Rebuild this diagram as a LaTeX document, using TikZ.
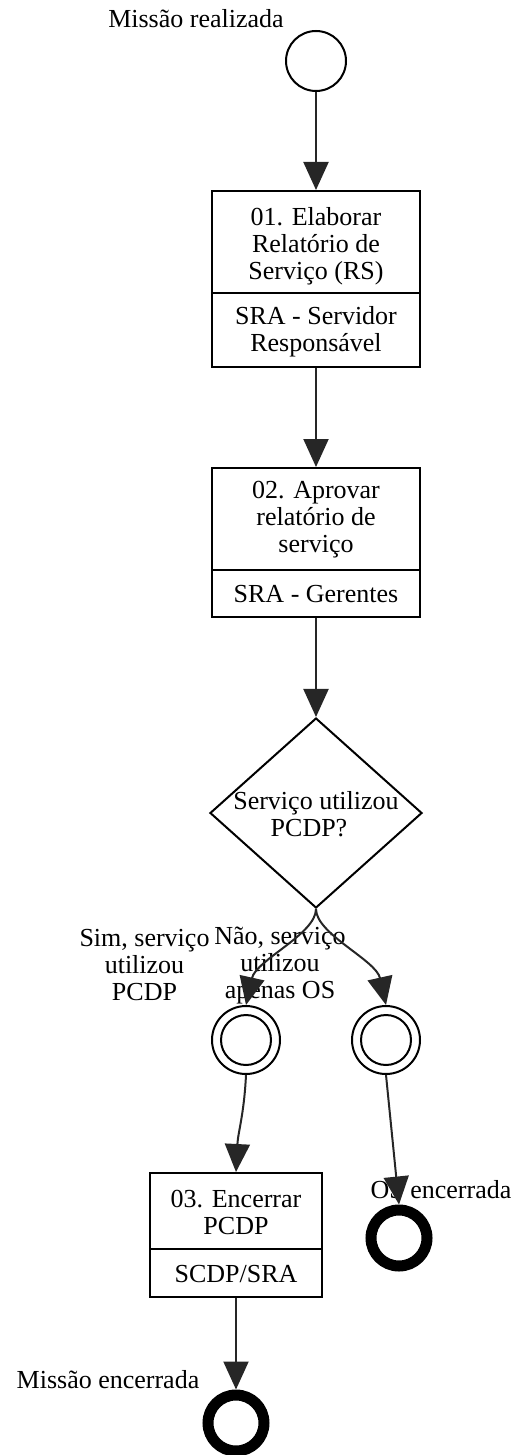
\documentclass[tikz,border=0pt]{standalone}
\usepackage{fontspec}
\setmainfont{Liberation Serif}
\usetikzlibrary{arrows.meta,shapes.geometric}
\begin{document}
\begin{tikzpicture}[x=1pt,y=-1pt,
  txt/.style={font=\fontsize{26}{27}\selectfont, align=center, inner sep=0pt},
  conn/.style={draw=black!85, line width=2pt, -{Triangle[length=28pt,width=25pt]}},
  taskbox/.style={draw=black, line width=2pt, rectangle, inner sep=0pt},
  divline/.style={draw=black, line width=2pt},
  startev/.style={draw=black, line width=2pt, circle, inner sep=0pt, minimum size=60pt},
  midev/.style={draw=black, line width=2pt, circle, inner sep=0pt, minimum size=68pt},
  endev/.style={draw=black, line width=11pt, circle, inner sep=0pt, minimum size=56pt},
  gate/.style={draw=black, line width=2pt, diamond, inner sep=0pt, minimum width=212pt, minimum height=190pt}
]
\useasboundingbox (0,0) rectangle (515,1455);

% start event
\node[startev] (s) at (316,61) {};
\node[txt, anchor=base] (sl) at (196,28) {Missão realizada};

% task 1
\node[taskbox, minimum width=208pt, minimum height=176pt] (b1) at (316,279) {};
\coordinate (b1dl) at (212,293);
\coordinate (b1dr) at (420,293);
\draw[divline] (b1dl) -- (b1dr);
\node[txt] (b1t) at (316,246) {01. Elaborar\\Relatório de\\Serviço (RS)};
\node[txt] (b1r) at (316,332) {SRA - Servidor\\Responsável};

% task 2
\node[taskbox, minimum width=208pt, minimum height=149pt] (b2) at (316,542.5) {};
\coordinate (b2dl) at (212,570);
\coordinate (b2dr) at (420,570);
\draw[divline] (b2dl) -- (b2dr);
\node[txt] (b2t) at (316,520) {02. Aprovar\\relatório de\\serviço};
\node[txt] (b2r) at (316,594) {SRA - Gerentes};

% gateway
\node[gate] (d) at (316,813) {};
\node[txt] (dt) at (316,814) {Serviço utilizou\\PCDP?\hspace*{14pt}};

% intermediate events
\node[midev] (i1) at (246,1040) {};
\draw[line width=2pt] (i1.center) circle (25pt);
\node[midev] (i2) at (386,1040) {};
\draw[line width=2pt] (i2.center) circle (25pt);

% branch labels
\node[txt] (l1) at (144.5,965) {Sim, serviço\\utilizou\\PCDP};
\node[txt] (l2) at (280,965) {Não, serviço\\utilizou\\apenas OS};

% task 3
\node[taskbox, minimum width=172pt, minimum height=124pt] (b3) at (236,1235) {};
\coordinate (b3dl) at (150,1249);
\coordinate (b3dr) at (322,1249);
\draw[divline] (b3dl) -- (b3dr);
\node[txt] (b3t) at (236,1212) {03. Encerrar\\PCDP};
\node[txt] (b3r) at (236,1274) {SCDP/SRA};

% end events
\node[endev] (e1) at (236,1423) {};
\node[txt, anchor=base] (e1l) at (108,1388) {Missão encerrada};
\node[endev] (e2) at (399,1238) {};
\node[txt, anchor=base] (e2l) at (441,1198) {OS encerrada};

% connectors
\draw[conn] (s) -- (b1);
\draw[conn] (b1) -- (b2);
\draw[conn] (b2) -- (d);
\draw[conn] (d.south) .. controls +(0,25) and +(10,-45) .. (i1.north);
\draw[conn] (d.south) .. controls +(0,25) and +(-10,-45) .. (i2.north);
\draw[conn] (i1.south) .. controls +(-2,40) and +(2,-40) .. (b3.north);
\draw[conn] (i2.south) -- (e2.north);
\draw[conn] (b3) -- (e1);
\end{tikzpicture}
\end{document}
